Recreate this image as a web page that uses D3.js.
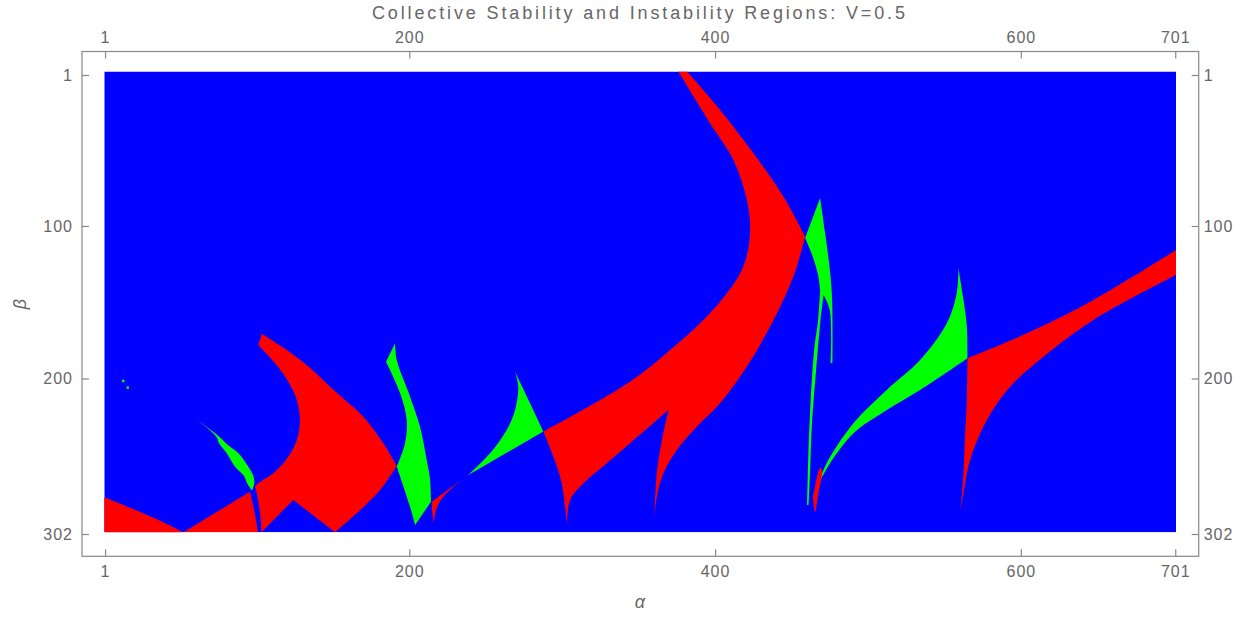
<!DOCTYPE html>
<html>
<head>
<meta charset="utf-8">
<script src="https://cdn.jsdelivr.net/npm/d3@7"></script>
<style>
body { margin: 0; background: #fff; }
text { font-family: "Liberation Sans", Arial, sans-serif; fill: #666; }
</style>
</head>
<body>
<div id="chart"></div>
<script>
var width = 1250, height = 617;

var titleText = "Collective Stability and Instability Regions: V=0.5";
var alphaTicks = [1, 200, 400, 600, 701];
var betaTicks = [1, 100, 200, 302];

// each region is a list of boundary edges in (alpha, beta); edges are smoothed, corners kept
var redLowerLeft = [
  [[0.5,279.5],[20.6,287.8],[38,295.5],[52,302.5]],
  [[52,302.5],[0.5,302.5],[0.5,279.5]]
];
var redWedge = [
  [[52.2,302.5],[95.8,275.9]],
  [[95.8,275.9],[97.8,284.6],[99.7,294.4],[101,302.5]],
  [[101,302.5],[52.2,302.5]]
];
var redCrescent = [
  [[103.5,172.5],[116.6,180.8],[134,193.9],[148.2,207.1],[158,215.8],[169.9,226.7],[183,244.1],[191.8,259]],
  [[191.8,259],[180.9,274.7],[165.6,290],[151.4,302.5]],
  [[151.4,302.5],[124.1,281.3]],
  [[124.1,281.3],[103.3,302.5]],
  [[103.3,302.5],[102.4,289.8],[100.2,276.9],[99.1,272.6]],
  [[99.1,272.6],[101.2,270.4],[112.2,262.8],[120.9,252.9],[126.4,242],[128.5,228.9],[126.4,215.8],[120.9,203.8],[112.2,191.7],[101.2,179.7]],
  [[101.2,179.7],[103.5,172.5]]
];
var redSmall = [
  [[214.7,282.4],[235.4,267.1]],
  [[235.4,267.1],[222.3,279.1],[217.5,287.8],[216.2,296.6]],
  [[216.2,296.6],[215,289.2],[214.7,282.4]]
];
var redArc = [
  [[287.7,236.5],[344.4,203.8],[370.6,183],[392.4,163.3],[407.7,145.8],[418.5,128.4],[422.9,106.5],[420.8,84.7],[412,58.5],[396.7,34.4],[376,0.5]],
  [[376,0.5],[381.7,0.5]],
  [[381.7,0.5],[403.3,25.7],[425.1,54.1],[444.7,82.5],[458.9,108.8]],
  [[458.9,108.8],[451.2,135],[436,167.7],[420.8,193.9],[403.3,217.9],[388,233.3],[375,248.5],[366.2,263.8],[362.1,278],[360.2,293.1]],
  [[360.2,293.1],[362.1,261.6],[365.3,242],[369.5,222.3]],
  [[369.5,222.3],[344.4,244.1],[329.2,257.2],[313.9,270.4],[305.2,281.3],[303,297.7]],
  [[303,297.7],[299.7,270.4],[294.2,252.9],[287.7,236.5]]
];
var redSliver = [
  [[464.1,280],[468.7,260.3],[470,261.6],[467.4,278],[465.4,289.2],[464.1,280]]
];
var redBand = [
  [[565.1,188.4],[603.9,172.1],[647.5,150.2],[701.5,117.5]],
  [[701.5,117.5],[701.5,133.9]],
  [[701.5,133.9],[647.5,163.3],[614.8,187.4],[593,207.1],[577.8,228.9],[566.8,255.1],[562.5,276.9],[560.3,289]],
  [[560.3,289],[562.1,270.4],[563.6,237.6],[564.7,215.8],[565.1,188.4]]
];

var greenThin = [
  [[62,229.3],[75.9,240],[81.4,245.3],[88.2,250.7],[94.7,259.5],[97.8,264.9],[98.6,270.4],[97.1,275.2]],
  [[97.1,275.2],[93.9,270.4],[91.9,265.6],[86,259.5],[80.6,250.7],[75.5,244],[73.9,240],[62,229.3]]
];
var greenBlade = [
  [[190.7,178.6],[191.8,189.6],[200.5,213.6],[207,233.3],[211.4,255.1],[213.6,268.2],[214.2,282.4]],
  [[214.2,282.4],[203.8,297.7]],
  [[203.8,297.7],[200.5,285.7],[191.8,259.5]],
  [[191.8,259.5],[197.2,244.1],[198.3,228.9],[194,211.4],[184.8,190.7]],
  [[184.8,190.7],[190.7,178.6]]
];
var greenHorn = [
  [[269.2,197.2],[279,217.9],[287.7,236.5]],
  [[287.7,236.5],[238.6,264.9]],
  [[238.6,264.9],[252.8,250.7],[263.7,235.4],[269.2,222.3],[271.3,207.1],[269.2,197.2]]
];
var greenLens = [
  [[458.9,109.6],[468.7,83.4]],
  [[468.7,83.4],[472,106.3],[475.3,132.5],[476.6,150.2],[476.8,191.5]],
  [[476.8,191.5],[475.6,191.5]],
  [[475.6,191.5],[475,156.8],[471,147]],
  [[471,147],[469,163.3],[466.1,196.1],[463.5,228.9],[462.2,261.6],[461.2,284.6]],
  [[461.2,284.6],[460.2,284.6]],
  [[460.2,284.6],[460.9,255.1],[462.2,222.3],[464.8,183],[467.4,163.3],[468.7,143.7]],
  [[468.7,143.7],[467.4,133.9],[463.5,120.7],[458.9,109.6]]
];
var greenFan = [
  [[463.5,279.3],[468.7,266.9],[474.1,255.1],[490.5,231],[512.3,209.2],[534.1,189.6],[551.6,165.5],[558.1,145.8],[559.2,129.5]],
  [[559.2,129.5],[562.5,150.2],[564.7,167.7],[565.1,188.4]],
  [[565.1,188.4],[534.1,209.2],[512.3,222.3],[490.5,237.6],[474.1,259],[467.4,271.5],[463.5,279.3]]
];
var greenDots = [[12.9,203.3],[15.8,207.7]];

var redRegions = [redLowerLeft, redWedge, redCrescent, redSmall, redArc, redSliver, redBand];
var greenRegions = [greenThin, greenBlade, greenHorn, greenLens, greenFan];

var frame = { left: 82, top: 51.5, right: 1198.7, bottom: 556.3 };

var x = d3.scaleLinear().domain([0.5, 701.5]).range([104.3, 1176]);
var y = d3.scaleLinear().domain([0.5, 302.5]).range([71.5, 532.3]);
var yTick = d3.scaleLinear().domain([1, 302]).range([75, 534]);

var svg = d3.select("#chart").append("svg")
  .attr("width", width)
  .attr("height", height);

svg.append("defs").append("clipPath").attr("id", "plotClip")
  .append("rect")
  .attr("x", x(0.5)).attr("y", y(0.5))
  .attr("width", x(701.5) - x(0.5))
  .attr("height", y(302.5) - y(0.5));

var plot = svg.append("g").attr("clip-path", "url(#plotClip)");

// stable background
plot.append("rect")
  .attr("x", x(0.5)).attr("y", y(0.5))
  .attr("width", x(701.5) - x(0.5))
  .attr("height", y(302.5) - y(0.5))
  .attr("fill", "#0000ff");

var edgeLine = d3.line()
  .x(function (d) { return x(d[0]); })
  .y(function (d) { return y(d[1]); })
  .curve(d3.curveCatmullRom.alpha(0.5));

function regionPath(edges) {
  return edges.map(function (e, i) {
    var p = edgeLine(e);
    return i ? p.replace(/^M/, "L") : p;
  }).join("") + "Z";
}

plot.selectAll(".green")
  .data(greenRegions)
  .enter().append("path")
  .attr("class", "green")
  .attr("d", regionPath)
  .attr("fill", "#00ff00");

plot.selectAll(".dot")
  .data(greenDots)
  .enter().append("rect")
  .attr("class", "dot")
  .attr("x", function (d) { return x(d[0] - 0.8); })
  .attr("y", function (d) { return y(d[1] - 0.8); })
  .attr("width", function (d) { return x(d[0] + 0.8) - x(d[0] - 0.8); })
  .attr("height", function (d) { return y(d[1] + 0.8) - y(d[1] - 0.8); })
  .attr("fill", "#00ff00");

plot.selectAll(".red")
  .data(redRegions)
  .enter().append("path")
  .attr("class", "red")
  .attr("d", regionPath)
  .attr("fill", "#ff0000");

// frame
svg.append("rect")
  .attr("x", frame.left).attr("y", frame.top)
  .attr("width", frame.right - frame.left)
  .attr("height", frame.bottom - frame.top)
  .attr("fill", "none")
  .attr("stroke", "#888")
  .attr("stroke-width", 1.2);

function styleAxis(g) {
  g.select(".domain").remove();
  g.selectAll("line").attr("stroke", "#888").attr("stroke-width", 1.2);
  g.selectAll("text")
    .style("font-size", "16px")
    .style("letter-spacing", "1px")
    .attr("fill", "#666");
}

svg.append("g")
  .attr("transform", "translate(0," + frame.top + ")")
  .call(d3.axisTop(x).tickValues(alphaTicks).tickSizeInner(-7).tickSizeOuter(0).tickPadding(9).tickFormat(d3.format("d")))
  .call(styleAxis);

svg.append("g")
  .attr("transform", "translate(0," + frame.bottom + ")")
  .call(d3.axisBottom(x).tickValues(alphaTicks).tickSizeInner(-7).tickSizeOuter(0).tickPadding(9).tickFormat(d3.format("d")))
  .call(styleAxis);

svg.append("g")
  .attr("transform", "translate(" + frame.left + ",0)")
  .call(d3.axisLeft(yTick).tickValues(betaTicks).tickSizeInner(-7).tickSizeOuter(0).tickPadding(9).tickFormat(d3.format("d")))
  .call(styleAxis);

svg.append("g")
  .attr("transform", "translate(" + frame.right + ",0)")
  .call(d3.axisRight(yTick).tickValues(betaTicks).tickSizeInner(-7).tickSizeOuter(0).tickPadding(5).tickFormat(d3.format("d")))
  .call(styleAxis);

svg.append("text")
  .attr("x", 638.5)
  .attr("y", 19)
  .attr("text-anchor", "middle")
  .attr("textLength", 533)
  .attr("lengthAdjust", "spacing")
  .style("font-size", "18px")
  .text(titleText);

svg.append("text")
  .attr("x", 640)
  .attr("y", 608)
  .attr("text-anchor", "middle")
  .style("font-size", "18px")
  .style("font-style", "italic")
  .text("α");

svg.append("text")
  .attr("transform", "translate(26,304) rotate(-90)")
  .attr("text-anchor", "middle")
  .style("font-size", "18px")
  .style("font-style", "italic")
  .text("β");
</script>
</body>
</html>
